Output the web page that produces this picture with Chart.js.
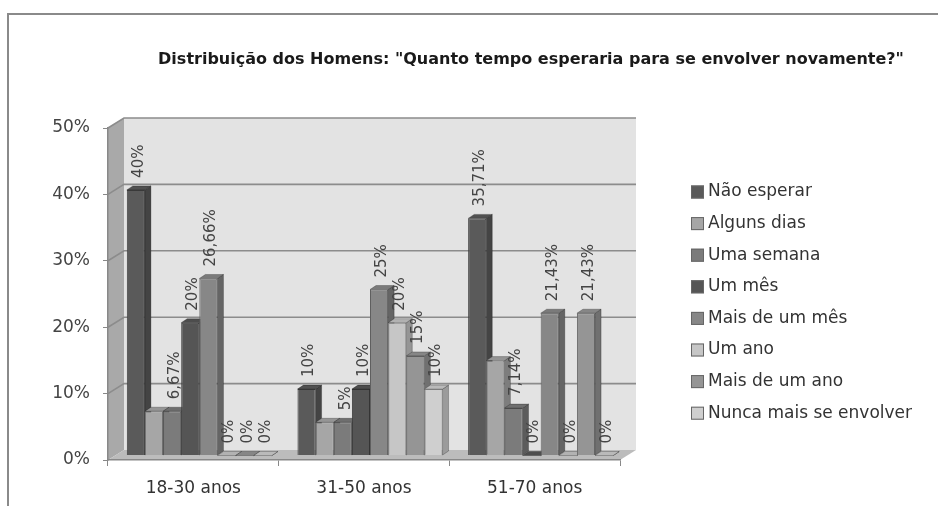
<!DOCTYPE html>
<html>
<head>
<meta charset="utf-8">
<script src="https://cdn.jsdelivr.net/npm/chart.js@4.4.1/dist/chart.umd.min.js"></script>
<style>
  html, body { margin: 0; padding: 0; background: #fff; }
  #wrap { width: 938px; height: 506px; }
</style>
</head>
<body>
<div id="wrap"><canvas id="chart" width="938" height="506"></canvas></div>
<script>
// data
const titleText = 'Distribuição dos Homens: "Quanto tempo esperaria para se envolver novamente?"';
const categories = ['18-30 anos', '31-50 anos', '51-70 anos'];
const seriesNames = ['Não esperar', 'Alguns dias', 'Uma semana', 'Um mês', 'Mais de um mês', 'Um ano', 'Mais de um ano', 'Nunca mais se envolver'];

const naoEsperar = [40, 10, 35.71];
const algunsDias = [6.67, 5, 14.29];
const umaSemana = [6.67, 5, 7.14];
const umMes = [20, 10, 0];
const maisDeUmMes = [26.66, 25, 21.43];
const umAno = [0, 20, 0];
const maisDeUmAno = [0, 15, 21.43];
const nuncaMais = [0, 10, 0];

const yTickValues = [0, 10, 20, 30, 40, 50];
// this series shows no value labels in the original
const unlabeledSeries = ['Alguns dias'];

const seriesValues = [naoEsperar, algunsDias, umaSemana, umMes, maisDeUmMes, umAno, maisDeUmAno, nuncaMais];
const barColors = ['#5a5a5a', '#a6a6a6', '#7b7b7b', '#555555', '#878787', '#c6c6c6', '#959595', '#cfcfcf'];

// 3D look
const WALL = { dx: 16, dy: -10 };
const BAR_SHIFT = { dx: 6, dy: -4.5 };
const BAR_DEPTH = { dx: 6, dy: -4 };

function shade(hex, f) {
  const n = parseInt(hex.slice(1), 16);
  const r = Math.round(((n >> 16) & 255) * f);
  const g = Math.round(((n >> 8) & 255) * f);
  const b = Math.round((n & 255) * f);
  return 'rgb(' + r + ',' + g + ',' + b + ')';
}

function fmt(v) {
  return String(v).replace('.', ',') + '%';
}

function poly(ctx, pts, fill, stroke) {
  ctx.beginPath();
  ctx.moveTo(pts[0][0], pts[0][1]);
  for (let i = 1; i < pts.length; i++) ctx.lineTo(pts[i][0], pts[i][1]);
  ctx.closePath();
  ctx.fillStyle = fill;
  ctx.fill();
  if (stroke) {
    ctx.strokeStyle = stroke;
    ctx.lineWidth = 0.8;
    ctx.stroke();
  }
}

const excel3d = {
  id: 'excel3d',
  beforeDraw(chart) {
    const ctx = chart.ctx;
    const a = chart.chartArea;
    const y = chart.scales.y;
    ctx.save();
    ctx.fillStyle = '#fff';
    ctx.fillRect(0, 0, chart.width, chart.height);

    // frame
    ctx.strokeStyle = '#8a8a8a';
    ctx.lineWidth = 2;
    ctx.beginPath();
    ctx.moveTo(chart.width, 14);
    ctx.lineTo(8, 14);
    ctx.lineTo(8, chart.height);
    ctx.stroke();

    // title
    ctx.fillStyle = '#1a1a1a';
    ctx.font = 'bold 16px "DejaVu Sans"';
    ctx.textAlign = 'center';
    ctx.textBaseline = 'middle';
    ctx.fillText(titleText, 531, 60);

    // walls
    poly(ctx, [[a.left, a.top], [a.left + WALL.dx, a.top + WALL.dy], [a.left + WALL.dx, a.bottom + WALL.dy], [a.left, a.bottom]], '#a9a9a9');
    poly(ctx, [[a.left, a.bottom], [a.right, a.bottom], [a.right + WALL.dx, a.bottom + WALL.dy], [a.left + WALL.dx, a.bottom + WALL.dy]], '#bcbcbc');
    ctx.fillStyle = '#e3e3e3';
    ctx.fillRect(a.left + WALL.dx, a.top + WALL.dy, a.right - a.left, a.bottom - a.top);

    // gridlines on side and back wall
    ctx.strokeStyle = '#8c8c8c';
    ctx.lineWidth = 1.6;
    y.ticks.forEach(t => {
      if (t.value === 0) return;
      const py = y.getPixelForValue(t.value);
      ctx.beginPath();
      ctx.moveTo(a.left, py);
      ctx.lineTo(a.left + WALL.dx, py + WALL.dy);
      ctx.lineTo(a.right + WALL.dx, py + WALL.dy);
      ctx.stroke();
    });
    ctx.restore();
  },
  // bars are painted below, left to right, so each front face covers the previous side face
  beforeDatasetDraw() {
    return false;
  },
  afterDatasetsDraw(chart) {
    const ctx = chart.ctx;
    const n = chart.data.datasets.length;

    ctx.save();
    ctx.translate(BAR_SHIFT.dx, BAR_SHIFT.dy);
    for (let j = 0; j < categories.length; j++) {
      for (let i = 0; i < n; i++) {
        const el = chart.getDatasetMeta(i).data[j];
        const color = barColors[i];
        const p = el.getProps(['x', 'y', 'base', 'width'], true);
        const l = p.x - p.width / 2, r = p.x + p.width / 2;
        const top = Math.min(p.y, p.base), bot = Math.max(p.y, p.base);
        el.draw(ctx);
        poly(ctx, [[r, top], [r + BAR_DEPTH.dx, top + BAR_DEPTH.dy], [r + BAR_DEPTH.dx, bot + BAR_DEPTH.dy], [r, bot]], shade(color, 0.75), 'rgba(0,0,0,0.3)');
        poly(ctx, [[l, top], [l + BAR_DEPTH.dx, top + BAR_DEPTH.dy], [r + BAR_DEPTH.dx, top + BAR_DEPTH.dy], [r, top]], shade(color, 0.9), 'rgba(0,0,0,0.3)');
      }
    }
    ctx.restore();

    // value labels, rotated
    ctx.save();
    ctx.fillStyle = '#444';
    ctx.font = '15px "DejaVu Sans"';
    ctx.textAlign = 'left';
    ctx.textBaseline = 'middle';
    chart.data.datasets.forEach((ds, i) => {
      if (unlabeledSeries.includes(ds.label)) return;
      const meta = chart.getDatasetMeta(i);
      meta.data.forEach((el, j) => {
        const p = el.getProps(['x', 'y'], true);
        ctx.save();
        ctx.translate(p.x + BAR_SHIFT.dx + 3, p.y + BAR_SHIFT.dy - 12);
        ctx.rotate(-Math.PI / 2);
        ctx.fillText(fmt(ds.data[j]), 0, 0);
        ctx.restore();
      });
    });

    // legend
    ctx.font = '17px "DejaVu Sans"';
    chart.data.datasets.forEach((ds, i) => {
      const cy = 192 + i * 31.6;
      ctx.fillStyle = ds.backgroundColor;
      ctx.fillRect(691, cy - 6.5, 13, 13);
      ctx.strokeStyle = '#666';
      ctx.lineWidth = 1;
      ctx.strokeRect(691.5, cy - 6, 12, 12);
      ctx.fillStyle = '#333';
      ctx.fillText(ds.label, 708, cy);
    });
    ctx.restore();
  }
};

const datasets = seriesNames.map((name, i) => ({
  label: name,
  data: seriesValues[i],
  backgroundColor: barColors[i],
  borderColor: shade(barColors[i], 0.7),
  borderWidth: 1
}));

new Chart(document.getElementById('chart'), {
  type: 'bar',
  data: { labels: categories, datasets },
  options: {
    responsive: false,
    animation: false,
    events: [],
    layout: { padding: { left: 10, top: 128, right: 318, bottom: 4 } },
    datasets: { bar: { barPercentage: 1, categoryPercentage: 0.85 } },
    plugins: {
      legend: { display: false },
      title: { display: false },
      tooltip: { enabled: false }
    },
    scales: {
      x: {
        grid: { display: true, drawOnChartArea: false, tickLength: 6, color: '#888', offset: true },
        border: { display: true, color: '#888', width: 1.5 },
        ticks: { color: '#333', font: { family: 'DejaVu Sans', size: 17 }, padding: 12 },
        afterFit(s) { s.height = 42; }
      },
      y: {
        min: 0,
        max: 50,
        afterBuildTicks(s) { s.ticks = yTickValues.map(v => ({ value: v })); },
        grid: { display: true, drawOnChartArea: false, tickLength: 5, color: '#888' },
        border: { display: true, color: '#888', width: 1.5 },
        ticks: { color: '#444', font: { family: 'DejaVu Sans', size: 17 }, padding: 13, callback: v => v + '%' },
        afterFit(s) { s.width = 98; }
      }
    }
  },
  plugins: [excel3d]
});
</script>
</body>
</html>
